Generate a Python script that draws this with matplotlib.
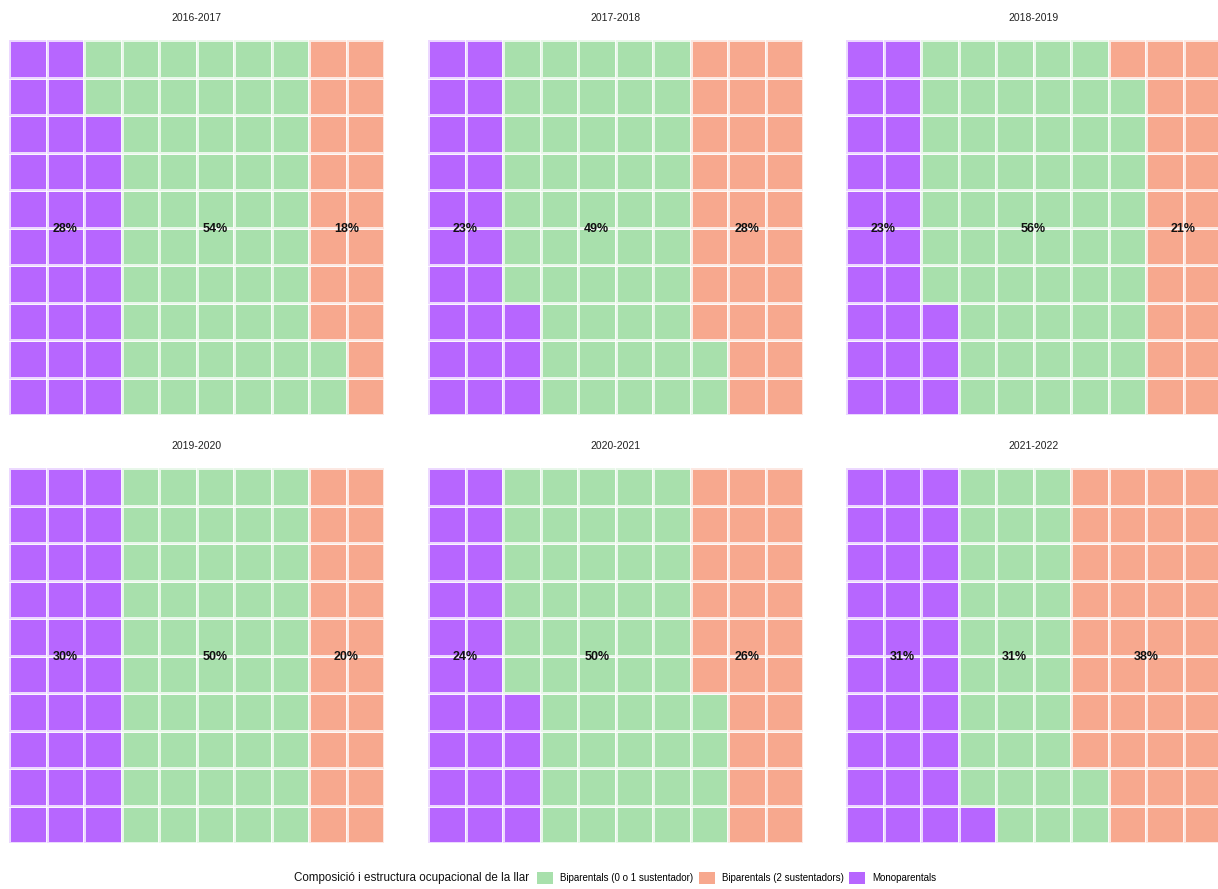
import numpy as np
import matplotlib
matplotlib.use("Agg")
import matplotlib.pyplot as plt
from matplotlib.colors import ListedColormap
from matplotlib.patches import Patch

plt.rcParams['font.family'] = ['Liberation Sans', 'DejaVu Sans']

# dades
periodes = ['2016-2017', '2017-2018', '2018-2019', '2019-2020', '2020-2021', '2021-2022']
categories = ['Monoparentals', 'Biparentals (0 o 1 sustentador)', 'Biparentals (2 sustentadors)']
monoparentals = [28, 23, 23, 30, 24, 31]
biparentals_0_1 = [54, 49, 56, 50, 50, 31]
biparentals_2 = [18, 28, 21, 20, 26, 38]

colors = ['#B766FF', '#A8E0AC', '#F7A88E']
legend_order = [1, 2, 0]

W, H = 1218, 889
fig = plt.figure(figsize=(W / 100, H / 100), dpi=100)

cell = 37.5
lefts = [9, 428, 846]
tops = [40, 468]


def graella(valors):
    # omple per columnes, de baix a dalt
    codis = np.repeat(np.arange(len(valors)), valors)
    g = np.full(100, -1)
    g[:len(codis)] = codis
    return g.reshape(10, 10).T  # files x columnes, fila 0 = baix


cmap = ListedColormap(colors)
for i, periode in enumerate(periodes):
    fila, col = divmod(i, 3)
    x0 = lefts[col] / W
    y0 = 1 - (tops[fila] + 10 * cell) / H
    ax = fig.add_axes([x0, y0, 10 * cell / W, 10 * cell / H])
    valors = [monoparentals[i], biparentals_0_1[i], biparentals_2[i]]
    g = graella(valors)
    ax.pcolormesh(np.arange(11), np.arange(11), g, cmap=cmap, vmin=-0.5, vmax=2.5,
                  edgecolors=(1, 1, 1, 0.75), linewidth=0.75)
    ax.set_xlim(0, 10)
    ax.set_ylim(0, 10)
    ax.set_axis_off()
    ax.set_title(periode, fontsize=7.5, color='#222222', pad=14)
    # etiqueta al centre de les caselles de les files del mig
    mig = g[4:6]
    cols = np.arange(10) + 0.5
    for k, v in enumerate(valors):
        _, cc = np.nonzero(mig == k)
        xm = cols[cc].mean()
        ax.text(xm, 4.95, f'{v}%', ha='center', va='center', fontsize=9,
                fontweight='bold', color='#111111')

fig.text(294 / W, 1 - 878 / H, 'Composició i estructura ocupacional de la llar',
         ha='left', va='center', fontsize=8.4, color='#111111')
handles = [Patch(facecolor=colors[k], edgecolor='none', label=categories[k]) for k in legend_order]
fig.legend(handles=handles, loc='center left', bbox_to_anchor=(537 / W, 1 - 878 / H),
           ncol=3, frameon=False, fontsize=7, handlelength=1.65, handleheight=1.65,
           handletextpad=0.7, columnspacing=0.6, borderaxespad=0, borderpad=0)

fig.savefig('out.png', dpi=100)
